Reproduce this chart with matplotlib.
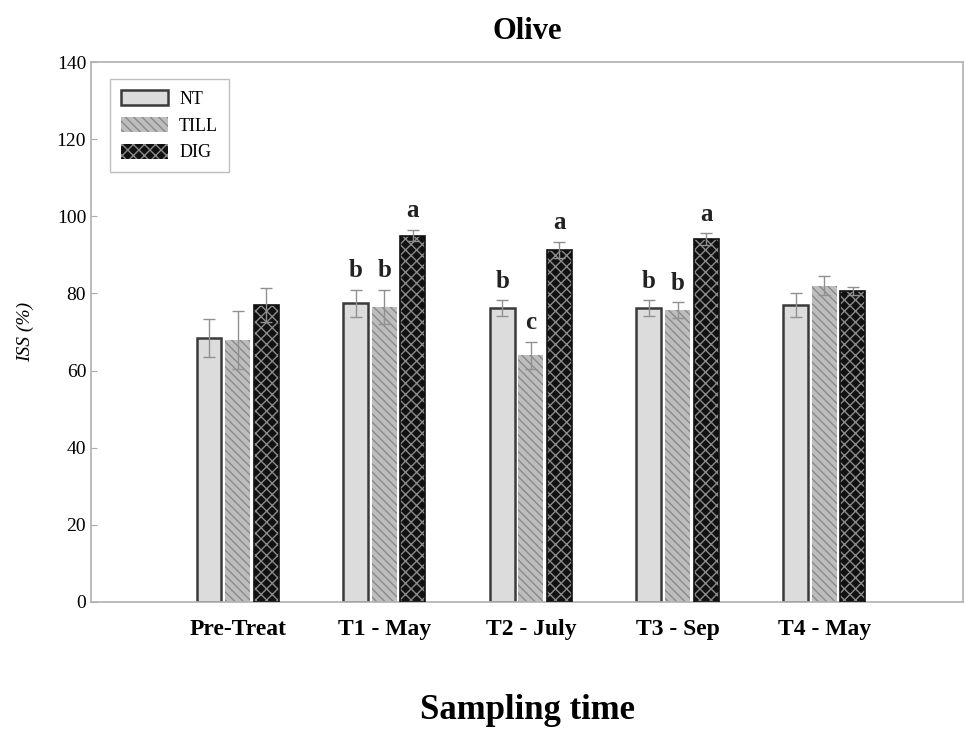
import numpy as np
import matplotlib.pyplot as plt
import matplotlib as mpl

mpl.rcParams['font.family'] = ['Liberation Serif', 'DejaVu Serif']
mpl.rcParams['hatch.linewidth'] = 1.0

groups = ["Pre-Treat", "T1 - May", "T2 - July", "T3 - Sep", "T4 - May"]
treatments = ["NT", "TILL", "DIG"]

nt_mean = [68.5, 77.5, 76.2, 76.2, 77.0]
till_mean = [68.0, 76.5, 64.0, 75.7, 82.0]
dig_mean = [77.0, 95.0, 91.3, 94.1, 80.6]

nt_err = [5.0, 3.5, 2.0, 2.0, 3.0]
till_err = [7.5, 4.5, 3.5, 2.0, 2.5]
dig_err = [4.5, 1.5, 2.0, 1.5, 1.0]

nt_letters = ["", "b", "b", "b", ""]
till_letters = ["", "b", "c", "b", ""]
dig_letters = ["", "a", "a", "a", ""]

fig = plt.figure(figsize=(9.64, 7.31), dpi=100)
ax = fig.add_axes([0.0944, 0.1765, 0.905, 0.7385])

x = np.arange(len(groups))
w = 0.17
off = 0.195

styles = [
    dict(color="#dcdcdc", edgecolor="#3a3a3a", hatch=None, lw=1.8),
    dict(color="#bdbdbd", edgecolor="#8a8a8a", hatch="\\\\\\\\", lw=0.0),
    dict(color="#111111", edgecolor="#8a8a8a", hatch="xxx", lw=0.0),
]
means = [nt_mean, till_mean, dig_mean]
errs = [nt_err, till_err, dig_err]
letters = [nt_letters, till_letters, dig_letters]

for i, (m, e, s, lab) in enumerate(zip(means, errs, styles, treatments)):
    pos = x + (i - 1) * off
    bars = ax.bar(pos, m, width=w, color=s["color"], edgecolor=s["edgecolor"],
                  hatch=s["hatch"], linewidth=s["lw"], label=lab, zorder=2)
    if i == 2:
        for b in bars:
            ax.add_patch(plt.Rectangle(b.get_xy(), b.get_width(), b.get_height(),
                                       fill=False, edgecolor="#111111", lw=1.2, zorder=3))
    ax.errorbar(pos, m, yerr=e, fmt="none", ecolor="#909090", elinewidth=1.0,
                capsize=4, capthick=1.0, zorder=4)
    for px, mv, ev, t in zip(pos, m, e, letters[i]):
        if t:
            ax.text(px, mv + ev + 2.0, t, ha="center", va="bottom", fontsize=18,
                    fontweight="bold", color="#222222")

ax.set_xlim(-1.0, 4.95)
ax.set_ylim(0, 140)
ax.set_yticks(np.arange(0, 141, 20))
ax.set_xticks(x)
ax.set_xticklabels(groups, fontsize=17, fontweight="bold")
ax.tick_params(axis="y", labelsize=14, direction="in", length=4, color="#aaaaaa")
ax.tick_params(axis="x", direction="in", length=4, color="#aaaaaa", pad=12)

for sp in ax.spines.values():
    sp.set_color("#b0b0b0")
    sp.set_linewidth(1.2)

ax.set_title("Olive", fontsize=22, fontweight="bold", pad=17)
ax.set_xlabel("Sampling time", fontsize=25, fontweight="bold", labelpad=39)
ax.set_ylabel("ISS (%)", fontsize=14, style="italic", labelpad=16)

leg = ax.legend(loc="upper left", bbox_to_anchor=(0.012, 0.985), fontsize=13,
                frameon=True, fancybox=False, edgecolor="#b0b0b0",
                handlelength=2.6, handleheight=0.9, borderpad=0.6,
                labelspacing=0.5, handletextpad=0.6)
leg.get_frame().set_linewidth(1.0)

fig.savefig("out.png", dpi=100)
